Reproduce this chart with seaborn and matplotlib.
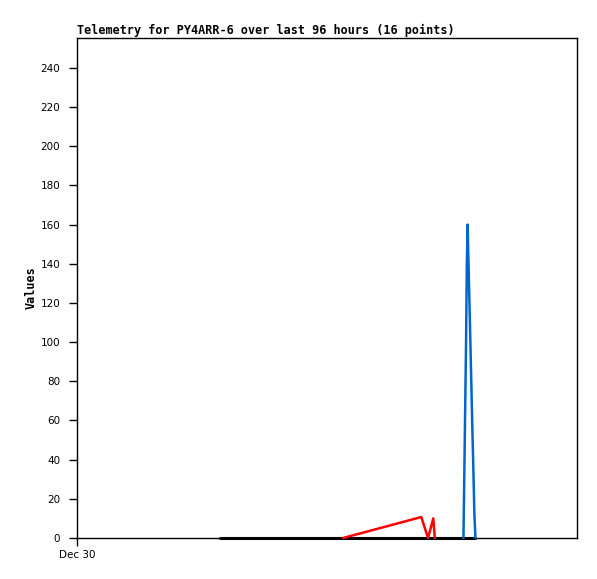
import numpy as np
import pandas as pd
import matplotlib
matplotlib.use("Agg")
import matplotlib.pyplot as plt
import seaborn as sns

# hours since Dec 30 00:00 (window of 96 hours)
black_hours = [27.5, 76.5]
black_values = [0, 0]

red_hours = [51.1, 66.1, 67.4, 68.4, 68.7]
red_values = [0, 10.7, 0, 10, 0]

blue_hours = [74.2, 74.3, 74.5, 74.7, 74.85, 75.0, 75.1, 75.3, 75.5, 75.7, 75.9, 76.1, 76.3, 76.5]
blue_values = [0, 20, 60, 100, 140, 160, 148, 126, 103, 80, 57, 35, 12, 0]

y_ticks = list(range(0, 241, 20))
x_tick_labels = ["Dec 30"]

sns.set_style("ticks")
plt.rcParams['font.family'] = ['DejaVu Sans']
plt.rcParams['text.color'] = 'black'
plt.rcParams['xtick.color'] = 'black'
plt.rcParams['ytick.color'] = 'black'
plt.rcParams['axes.labelcolor'] = 'black'

fig = plt.figure(figsize=(5.97, 5.79), dpi=100)
ax = fig.add_axes([77 / 597, 1 - 538 / 579, 500 / 597, 500 / 579])

black_df = pd.DataFrame({"hours": black_hours, "value": black_values})
red_df = pd.DataFrame({"hours": red_hours, "value": red_values})
blue_df = pd.DataFrame({"hours": blue_hours, "value": blue_values})

sns.lineplot(data=black_df, x="hours", y="value", ax=ax, color="black", lw=2.2,
             sort=False, estimator=None, zorder=2, clip_on=False)
sns.lineplot(data=red_df, x="hours", y="value", ax=ax, color="#ff0000", lw=1.8,
             sort=False, estimator=None, zorder=3, clip_on=False)
sns.lineplot(data=blue_df, x="hours", y="value", ax=ax, color="#0066cc", lw=1.8,
             sort=False, estimator=None, zorder=4, clip_on=False)

ax.set_xlim(0, 96)
ax.set_ylim(0, 255.3)
ax.set_yticks(y_ticks)
ax.set_yticklabels([str(v) for v in y_ticks], fontsize=7.5)
ax.set_xticks([0])
ax.set_xticklabels(x_tick_labels, fontsize=7.5)
ax.tick_params(axis="both", direction="out", length=6, width=1, pad=3)
ax.tick_params(axis="y", pad=6)

for s in ax.spines.values():
    s.set_color("black")
    s.set_linewidth(1)

ax.set_xlabel("")
ax.set_ylabel("Values", family="DejaVu Sans Mono", fontweight="bold", fontsize=8.5)
ax.yaxis.set_label_coords(-0.078, 0.5)
ax.set_title("Telemetry for PY4ARR-6 over last 96 hours (16 points)",
             family="DejaVu Sans Mono", fontweight="bold", fontsize=8.45, loc="left", pad=3)

fig.savefig("out.png", dpi=100)
